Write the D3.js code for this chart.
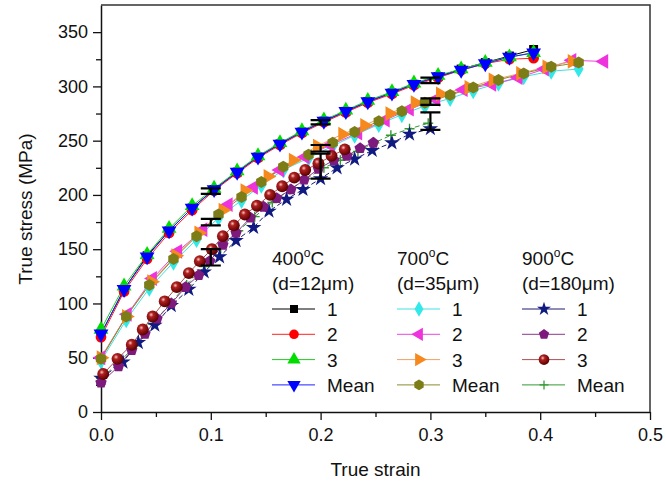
<!DOCTYPE html>
<html>
<head>
<meta charset="utf-8">
<script src="https://cdn.jsdelivr.net/npm/d3@7"></script>
<style>
  body { margin: 0; background: #fff; }
  text { font-family: "Liberation Sans", Arial, sans-serif; fill: #111; }
</style>
</head>
<body>
<svg id="chart" width="666" height="485"></svg>
<script>
// ---- data ----
const strain400 = [0, 0.021, 0.042, 0.062, 0.083, 0.103, 0.124, 0.143, 0.163, 0.183, 0.203, 0.223, 0.243, 0.265, 0.285, 0.307, 0.328, 0.35, 0.372, 0.394];
const stress400_1 = [72, 113, 144, 167, 188, 205, 221, 235, 247, 258, 268, 277, 286, 294, 302, 309, 316, 322, 328, 334];
const stress400_2 = [69, 111, 141, 165, 186, 204, 220, 234, 246, 257, 267, 276, 285, 293, 301, 308, 315, 321, 325, 326];
const stress400_3 = [76, 116, 145, 169, 190, 206, 222, 236, 248, 259, 269, 278, 287, 295, 303, 310, 316, 322, 327, 331];
const stress400_m = [72, 113, 143, 167, 188, 205, 221, 235, 247, 258, 268, 277, 286, 294, 302, 309, 315, 321, 327, 331];

const strain700 = [0, 0.023, 0.044, 0.066, 0.087, 0.107, 0.128, 0.146, 0.166, 0.189, 0.211, 0.231, 0.253, 0.274, 0.295, 0.318, 0.339, 0.362, 0.385, 0.41, 0.435];
const stress700_1 = [47, 85, 114, 138, 159, 179, 195, 209, 223, 234, 245, 255, 265, 274, 282, 289, 296, 303, 309, 314, 316];
const stress700_m = [49, 88, 117, 141, 162, 182, 198, 212, 226, 237, 248, 258, 268, 277, 285, 292, 299, 306, 312, 318, 322];
const strain700_2 = [0, 0.024, 0.047, 0.07, 0.093, 0.116, 0.139, 0.163, 0.186, 0.209, 0.234, 0.259, 0.281, 0.305, 0.33, 0.356, 0.38, 0.404, 0.429, 0.458];
const stress700_2 = [50, 90, 123, 148, 168, 191, 207, 223, 235, 246, 257, 269, 279, 288, 297, 302, 308, 316, 324, 323];
const strain700_3 = [0, 0.023, 0.046, 0.068, 0.089, 0.111, 0.131, 0.152, 0.175, 0.197, 0.22, 0.24, 0.263, 0.286, 0.309, 0.335, 0.357, 0.382, 0.406, 0.429];
const stress700_3 = [50, 88, 120, 144, 165, 186, 204, 217, 232, 245, 256, 264, 275, 285, 293, 299, 306, 312, 318, 323];

const strain900_1 = [0, 0.020, 0.034, 0.049, 0.064, 0.080, 0.094, 0.108, 0.123, 0.139, 0.153, 0.169, 0.184, 0.200, 0.215, 0.231, 0.247, 0.265, 0.281, 0.300];
const stress900_1 = [31, 46, 64, 80, 98, 113, 129, 143, 158, 170, 185, 196, 205, 215, 225, 233, 241, 248, 256, 261];
const strain900_2 = [0, 0.016, 0.028, 0.040, 0.051, 0.064, 0.077, 0.089, 0.099, 0.111, 0.123, 0.136, 0.148, 0.160, 0.173, 0.185, 0.198, 0.212, 0.224, 0.236, 0.248];
const stress900_2 = [27, 42, 57, 72, 86, 100, 115, 126, 139, 154, 165, 179, 189, 197, 205, 214, 224, 232, 236, 243, 248];
const strain900_3 = [0.002, 0.015, 0.028, 0.038, 0.047, 0.058, 0.069, 0.080, 0.090, 0.101, 0.111, 0.121, 0.131, 0.142, 0.154, 0.165, 0.176, 0.186, 0.198, 0.210, 0.222];
const stress900_3 = [35, 49, 62, 76, 88, 102, 115, 128, 139, 150, 162, 172, 182, 190, 200, 208, 216, 223, 229, 236, 242];
const strain900_m = [0, 0.016, 0.031, 0.047, 0.062, 0.078, 0.094, 0.109, 0.125, 0.140, 0.156, 0.172, 0.187, 0.203, 0.218, 0.234, 0.249, 0.264, 0.281, 0.298];
const stress900_m = [31, 45, 61, 81, 99, 117, 134, 151, 167, 180, 193, 205, 215, 225, 232, 240, 248, 255, 261, 266];

// error bars at fixed strains
const errStrain = [0.1, 0.2, 0.3];
const err400Lo = [201, 265, 303], err400Hi = [206, 269, 308];
const err700Lo = [172, 240, 283], err700Hi = [178, 246, 289];
const err900Lo = [135, 215, 260], err900Hi = [150, 238, 276];

const groupTemps = ["400", "700", "900"];
const groupGrains = ["12", "35", "180"];
const seriesLabels = ["1", "2", "3", "Mean"];
const xTicks = [0, 0.1, 0.2, 0.3, 0.4, 0.5];
const yTicks = [0, 50, 100, 150, 200, 250, 300, 350];

// ---- setup ----
const svg = d3.select("#chart");
const x = d3.scaleLinear().domain([0, 0.5]).range([101, 650]);
const y = d3.scaleLinear().domain([0, 375]).range([412, 5]);

const defs = svg.append("defs");
const grad = defs.append("radialGradient").attr("id", "ball").attr("cx", "38%").attr("cy", "35%").attr("r", "65%");
grad.append("stop").attr("offset", "0%").attr("stop-color", "#f4c8c0");
grad.append("stop").attr("offset", "30%").attr("stop-color", "#b02020");
grad.append("stop").attr("offset", "100%").attr("stop-color", "#5a0000");

const polygon = (n, r, rot) => {
  const pts = d3.range(n).map(i => {
    const a = rot + i * 2 * Math.PI / n;
    return [r * Math.sin(a), -r * Math.cos(a)];
  });
  return "M" + pts.map(p => p.join(",")).join("L") + "Z";
};

const sym = (type, size) => d3.symbol().type(type).size(size)();
const shapes = {
  square: sym(d3.symbolSquare, 80),
  circle: sym(d3.symbolCircle, 90),
  triUp: sym(d3.symbolTriangle, 95),
  diamond: sym(d3.symbolDiamond, 85),
  star: sym(d3.symbolStar, 75),
  hex: polygon(6, 6, 0),
  pent: polygon(5, 6, 0),
  ball: sym(d3.symbolCircle, 110),
  plus: "M-5,0H5M0,-5V5"
};

const series = [
  {g: 0, xs: strain400, ys: stress400_1, line: "#000", fill: "#000", shape: "square", rot: 0},
  {g: 0, xs: strain400, ys: stress400_2, line: "#ff2020", fill: "#ff0000", shape: "circle", rot: 0},
  {g: 0, xs: strain400, ys: stress400_3, line: "#22cc22", fill: "#00dd00", shape: "triUp", rot: 0},
  {g: 0, xs: strain400, ys: stress400_m, line: "#2020ff", fill: "#0000ff", shape: "triUp", rot: 180},
  {g: 1, xs: strain700, ys: stress700_1, line: "#40e0e0", fill: "#33e8e8", shape: "diamond", rot: 0},
  {g: 1, xs: strain700_2, ys: stress700_2, line: "#ee44dd", fill: "#ee33dd", shape: "triUp", rot: -90},
  {g: 1, xs: strain700_3, ys: stress700_3, line: "#f0a060", fill: "#f5891e", shape: "triUp", rot: 90},
  {g: 1, xs: strain700, ys: stress700_m, line: "#8a8a30", fill: "#7d7d17", shape: "hex", rot: 0},
  {g: 2, xs: strain900_m, ys: stress900_m, line: "#339933", fill: "none", shape: "plus", rot: 0, dash: "5,3", legend: 3},
  {g: 2, xs: strain900_1, ys: stress900_1, line: "#1a1a70", fill: "#101a80", shape: "star", rot: 0, dash: "5,3", legend: 0},
  {g: 2, xs: strain900_2, ys: stress900_2, line: "#8a3a8a", fill: "#7d1a7d", shape: "pent", rot: 0, legend: 1},
  {g: 2, xs: strain900_3, ys: stress900_3, line: "#b05050", fill: "url(#ball)", shape: "ball", rot: 0, legend: 2}
];

const line = d3.line().x(d => x(d[0])).y(d => y(d[1]));

// ---- axes ----
const gx = svg.append("g").attr("transform", `translate(0,${y(0)})`)
  .call(d3.axisBottom(x).tickValues(xTicks).tickFormat(d3.format(".1f")).tickSize(8).tickSizeOuter(0).tickPadding(4));
svg.append("g").attr("transform", `translate(0,${y(0)})`)
  .call(d3.axisBottom(x).tickValues([0.05, 0.15, 0.25, 0.35, 0.45]).tickFormat("").tickSize(5).tickSizeOuter(0))
  .select(".domain").remove();
const gy = svg.append("g").attr("transform", `translate(${x(0)},0)`)
  .call(d3.axisLeft(y).tickValues(yTicks).tickSize(8).tickSizeOuter(0).tickPadding(5));
svg.append("g").attr("transform", `translate(${x(0)},0)`)
  .call(d3.axisLeft(y).tickValues([25, 75, 125, 175, 225, 275, 325]).tickFormat("").tickSize(5).tickSizeOuter(0))
  .select(".domain").remove();

svg.selectAll(".tick line").attr("stroke", "#111").attr("stroke-width", 1.3);
svg.selectAll(".domain").attr("stroke", "#111").attr("stroke-width", 1.5);
gx.selectAll("text").attr("font-size", 18).attr("dy", "0.95em");
gy.selectAll("text").attr("font-size", 18);

// frame top / right
svg.append("path")
  .attr("d", `M${x(0)},${y(375)}H${x(0.5)}V${y(0)}`)
  .attr("fill", "none").attr("stroke", "#333").attr("stroke-width", 1.5);

svg.append("text").attr("x", x(0.25)).attr("y", 476).attr("text-anchor", "middle")
  .attr("font-size", 19).text("True strain");
svg.append("text").attr("transform", `translate(32,${y(187)}) rotate(-90)`).attr("text-anchor", "middle")
  .attr("font-size", 19).text("True stress (MPa)");

// ---- curves ----
series.forEach(s => {
  const pts = s.xs.map((v, i) => [v, s.ys[i]]);
  svg.append("path").datum(pts).attr("d", line)
    .attr("fill", "none").attr("stroke", s.line).attr("stroke-width", 1)
    .attr("stroke-dasharray", s.dash || null);
});
series.forEach(s => {
  const pts = s.xs.map((v, i) => [v, s.ys[i]]);
  svg.append("g").selectAll("path").data(pts).enter().append("path")
    .attr("d", shapes[s.shape])
    .attr("transform", d => `translate(${x(d[0])},${y(d[1])}) rotate(${s.rot})`)
    .attr("fill", s.fill)
    .attr("stroke", s.shape === "plus" ? s.line : "none")
    .attr("stroke-width", 1.4);
});

// ---- error bars ----
[[err400Lo, err400Hi], [err700Lo, err700Hi], [err900Lo, err900Hi]].forEach(([lo, hi]) => {
  const eb = svg.append("g").selectAll("g").data(errStrain).enter().append("g");
  eb.append("path")
    .attr("d", (d, i) => `M${x(d) - 10},${y(hi[i])}H${x(d) + 10}M${x(d)},${y(hi[i])}V${y(lo[i])}M${x(d) - 10},${y(lo[i])}H${x(d) + 10}`)
    .attr("fill", "none").attr("stroke", "#000").attr("stroke-width", 2.2);
});

// ---- legend ----
const legendX = [272, 397, 522];
groupTemps.forEach((t, gi) => {
  const lg = svg.append("g").attr("transform", `translate(${legendX[gi]},0)`);
  const head = lg.append("text").attr("y", 265).attr("font-size", 19);
  head.append("tspan").text(t);
  head.append("tspan").attr("font-size", 12).attr("dy", -8).text("o");
  head.append("tspan").attr("dy", 8).text("C");
  lg.append("text").attr("y", 290).attr("font-size", 19).text(`(d=${groupGrains[gi]}\u03bcm)`);

  series.filter(s => s.g === gi).forEach((s, k) => {
    const si = s.legend !== undefined ? s.legend : k;
    const ry = 309 + si * 25.3;
    lg.append("path").attr("d", `M0,${ry}H43`).attr("stroke", s.line).attr("stroke-width", 1);
    lg.append("path").attr("d", shapes[s.shape])
      .attr("transform", `translate(22,${ry}) rotate(${s.rot}) scale(0.9)`)
      .attr("fill", s.fill)
      .attr("stroke", s.shape === "plus" ? s.line : "none").attr("stroke-width", 1.4);
    lg.append("text").attr("x", 55).attr("y", ry + 7).attr("font-size", 19).text(seriesLabels[si]);
  });
});
</script>
</body>
</html>
